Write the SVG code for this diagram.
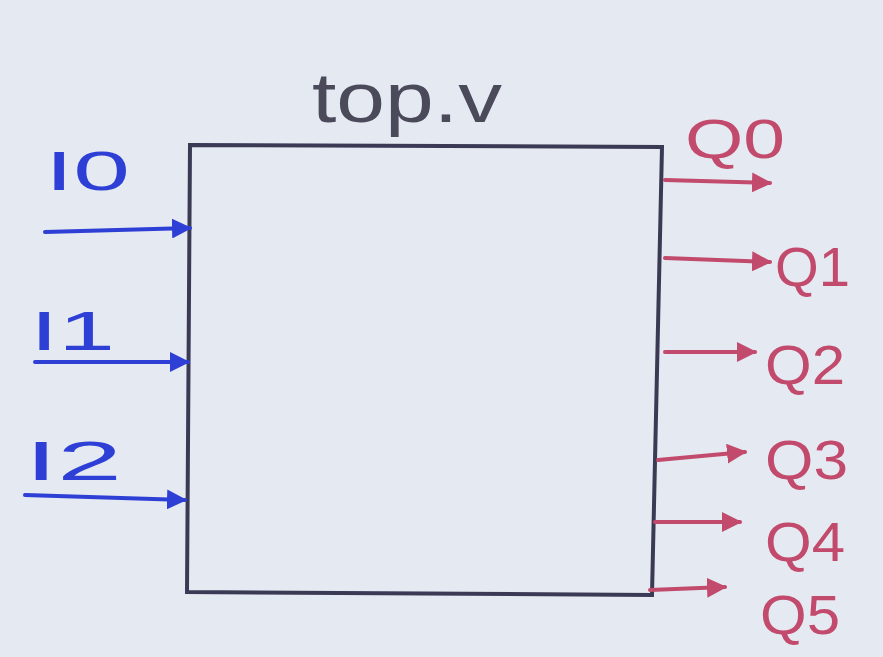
<svg xmlns="http://www.w3.org/2000/svg" width="883" height="657" viewBox="0 0 883 657">
<style>
.in{fill:#2e3fd6;font-family:"Liberation Sans",sans-serif;font-size:56px}
.out{fill:#c24a6c;font-family:"Liberation Sans",sans-serif;font-size:56px}
.cin{stroke:#2e3fd6;stroke-width:4;fill:none;stroke-linecap:round}
.cout{stroke:#c24a6c;stroke-width:4;fill:none;stroke-linecap:round}
</style>
<defs>
<marker id="ab" viewBox="0 0 10 10" refX="9" refY="5" markerWidth="5" markerHeight="5" orient="auto"><path d="M0,0 L10,5 L0,10 z" fill="#2e3fd6"/></marker>
<marker id="ar" viewBox="0 0 10 10" refX="9" refY="5" markerWidth="5" markerHeight="5" orient="auto"><path d="M0,0 L10,5 L0,10 z" fill="#c24a6c"/></marker>
</defs>
<rect width="883" height="657" fill="#e5e9f1"/>
<g id="top">
<path d="M190,145 L662,147 L652,595 L187,592 Z" fill="none" stroke="#3a3a55" stroke-width="4"/>
<text x="312" y="122" textLength="190" lengthAdjust="spacingAndGlyphs" fill="#4a4a5a" font-family="Liberation Sans,sans-serif" font-size="70">top.v</text>
</g>
<g id="inputs">
<text class="in" x="45" y="190" textLength="85" lengthAdjust="spacingAndGlyphs">I0</text>
<text class="in" x="30" y="350" textLength="85" lengthAdjust="spacingAndGlyphs">I1</text>
<text class="in" x="25" y="480" textLength="97" lengthAdjust="spacingAndGlyphs">I2</text>
</g>
<g id="outputs">
<text class="out" x="685" y="158" textLength="100" lengthAdjust="spacingAndGlyphs">Q0</text>
<text class="out" x="775" y="286" textLength="75" lengthAdjust="spacingAndGlyphs">Q1</text>
<text class="out" x="765" y="384" font-size="48" textLength="80" lengthAdjust="spacingAndGlyphs">Q2</text>
<text class="out" x="765" y="479" font-size="50" textLength="83" lengthAdjust="spacingAndGlyphs">Q3</text>
<text class="out" x="765" y="561" font-size="48" textLength="80" lengthAdjust="spacingAndGlyphs">Q4</text>
<text class="out" x="760" y="634" textLength="80" lengthAdjust="spacingAndGlyphs">Q5</text>
</g>
<g id="connectors">
<path class="cin" d="M45,232 L190,228" marker-end="url(#ab)"/>
<path class="cin" d="M35,362 L188,362" marker-end="url(#ab)"/>
<path class="cin" d="M25,495 L185,500" marker-end="url(#ab)"/>
<path class="cout" d="M665,180 L770,183" marker-end="url(#ar)"/>
<path class="cout" d="M665,258 L770,262" marker-end="url(#ar)"/>
<path class="cout" d="M665,352 L755,352" marker-end="url(#ar)"/>
<path class="cout" d="M658,460 L745,452" marker-end="url(#ar)"/>
<path class="cout" d="M655,522 L740,522" marker-end="url(#ar)"/>
<path class="cout" d="M650,590 L725,587" marker-end="url(#ar)"/>
</g>
</svg>
